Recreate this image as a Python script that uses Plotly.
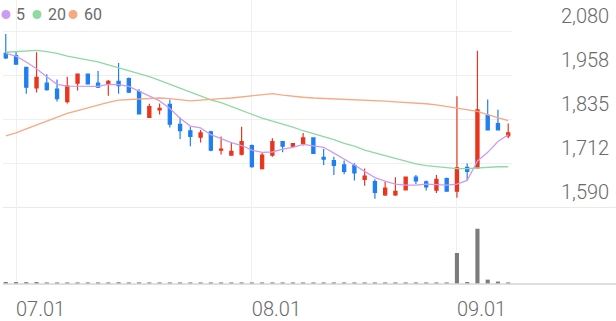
import pandas as pd
import plotly.graph_objects as go

# ---------------- data ----------------
# trading days 2025-06-30 .. 2025-09-08 (Aug 15 is a market holiday)
holidays = ["2025-08-15"]
dates = [d.strftime("%Y-%m-%d") for d in pd.bdate_range("2025-06-30", "2025-09-08")
         if d.strftime("%Y-%m-%d") not in holidays]

opens = [2018, 2012, 1979, 1922, 1935, 1919, 1884, 1935, 1960, 1935,
         1933, 1940, 1948, 1912, 1840, 1861, 1876, 1821, 1803, 1785,
         1800, 1749, 1735, 1738, 1762, 1698, 1735, 1773, 1760, 1767,
         1783, 1729, 1720, 1708, 1707, 1668, 1662, 1625, 1625, 1639,
         1674, 1661, 1638, 1670, 1635, 1701, 1700, 1846, 1823, 1789]
highs = [2072, 2023, 1980, 2021, 1960, 1945, 1953, 1962, 1962, 1969,
         1944, 1991, 1951, 1918, 1878, 1879, 1890, 1840, 1814, 1805,
         1803, 1787, 1770, 1814, 1765, 1741, 1782, 1774, 1768, 1797,
         1784, 1753, 1731, 1720, 1713, 1698, 1668, 1662, 1674, 1676,
         1680, 1665, 1680, 1673, 1899, 1712, 2025, 1890, 1861, 1823]
lows = [2002, 1987, 1906, 1909, 1914, 1884, 1879, 1915, 1932, 1922,
        1900, 1906, 1908, 1848, 1839, 1848, 1812, 1780, 1760, 1770,
        1746, 1737, 1734, 1734, 1700, 1695, 1731, 1743, 1758, 1762,
        1739, 1708, 1680, 1682, 1665, 1650, 1614, 1622, 1622, 1638,
        1655, 1637, 1630, 1634, 1617, 1664, 1698, 1804, 1804, 1782]
closes = [2005, 1988, 1924, 1951, 1917, 1892, 1927, 1960, 1933, 1924,
          1940, 1928, 1910, 1850, 1870, 1865, 1821, 1803, 1787, 1797,
          1749, 1752, 1746, 1773, 1703, 1735, 1773, 1760, 1767, 1783,
          1740, 1724, 1707, 1690, 1686, 1677, 1632, 1644, 1635, 1674,
          1664, 1647, 1668, 1635, 1700, 1690, 1861, 1805, 1805, 1797]
volumes = [210000, 200000, 190000, 200000, 100000, 90000, 100000, 90000, 100000, 90000,
           100000, 180000, 100000, 170000, 100000, 90000, 100000, 90000, 100000, 90000,
           100000, 90000, 100000, 100000, 110000, 100000, 90000, 100000, 90000, 100000,
           100000, 90000, 100000, 90000, 100000, 90000, 100000, 90000, 100000, 90000,
           100000, 90000, 100000, 110000, 3200000, 200000, 5700000, 450000, 250000, 100000]

ma5 = [2018, 2010, 1994, 1975, 1953, 1932, 1927, 1927, 1928, 1926,
       1932, 1931, 1926, 1913, 1900, 1886, 1865, 1838, 1816, 1811,
       1792, 1781, 1770, 1762, 1749, 1743, 1744, 1752, 1757, 1765,
       1762, 1757, 1741, 1725, 1708, 1690, 1673, 1663, 1655, 1652,
       1652, 1655, 1654, 1652, 1655, 1665, 1719, 1743, 1773, 1792]
ma20 = [2021, 2023, 2025, 2026, 2023, 2018, 2010, 2005, 1999, 1994,
        1986, 1978, 1970, 1962, 1953, 1943, 1932, 1921, 1910, 1900,
        1889, 1881, 1870, 1859, 1848, 1838, 1830, 1822, 1813, 1803,
        1795, 1787, 1778, 1768, 1760, 1749, 1741, 1733, 1725, 1719,
        1711, 1706, 1703, 1700, 1698, 1698, 1700, 1702, 1703, 1703]
ma60 = [1789, 1797, 1808, 1819, 1830, 1840, 1851, 1859, 1867, 1875,
        1882, 1888, 1890, 1892, 1893, 1894, 1892, 1888, 1886, 1888,
        1889, 1892, 1894, 1897, 1900, 1902, 1906, 1902, 1898, 1896,
        1894, 1893, 1892, 1890, 1889, 1888, 1886, 1885, 1883, 1882,
        1881, 1878, 1875, 1870, 1866, 1862, 1857, 1848, 1840, 1831]

ma_periods = ["5", "20", "60"]
ma_series = [ma5, ma20, ma60]

x_tick_dates = ["2025-07-01", "2025-08-01", "2025-09-01"]
x_tick_labels = ["07.01", "08.01", "09.01"]
y_tick_values = [1590, 1712.5, 1835, 1957.5, 2080]
y_tick_labels = ["1,590", "1,712", "1,835", "1,958", "2,080"]

# ---------------- style ----------------
UP = "#e8361c"
DOWN = "#1f7ff0"
MA_COLORS = ["#cc9cf0", "#8fd9a3", "#f8a883"]
GRID = "#efefef"
TEXT = "#6a6a6a"
FONT = "Roboto"

W, H = 616, 321
PL, PR, PT, PB = 3, 512, 0, 293          # plot area in pixels
VOL_TOP = 214                             # divider between price and volume panes
px_per_price = 45.5 / 122.5

price_dom0 = (PB - VOL_TOP) / (PB - PT)
price_top = 1590 + (VOL_TOP - PT) / px_per_price

fig = go.Figure()

fig.add_trace(go.Bar(
    x=dates, y=volumes, xaxis="x", yaxis="y2",
    marker=dict(color="#7b7b7b", line=dict(width=0)), width=0.4,
    hoverinfo="skip"))

for vals, col in zip(ma_series, MA_COLORS):
    fig.add_trace(go.Scatter(
        x=dates, y=vals, mode="lines", xaxis="x", yaxis="y",
        line=dict(color=col, width=1.3), hoverinfo="skip"))

fig.add_trace(go.Candlestick(
    x=dates, open=opens, high=highs, low=lows, close=closes,
    xaxis="x", yaxis="y",
    increasing=dict(line=dict(color=UP, width=1.2), fillcolor=UP),
    decreasing=dict(line=dict(color=DOWN, width=1.2), fillcolor=DOWN),
    whiskerwidth=0))

shapes = [
    dict(type="line", xref="paper", yref="paper", x0=0, x1=(W - PL) / (PR - PL),
         y0=price_dom0, y1=price_dom0, line=dict(color="#e9e9e9", width=1), layer="below"),
    dict(type="line", xref="paper", yref="paper", x0=0, x1=(W - PL) / (PR - PL),
         y0=0, y1=0, line=dict(color="#d6d6d6", width=1.5), layer="above"),
]

annotations = []
legend_circle_px = [6, 37, 73]
legend_text_px = [14, 46, 82]
legend_y = (PB - 15) / (PB - PT)
for name, col, cx, tx in zip(ma_periods, MA_COLORS, legend_circle_px, legend_text_px):
    xa = (cx - PL) / (PR - PL)
    shapes.append(dict(type="circle", xref="paper", yref="paper",
                       xsizemode="pixel", ysizemode="pixel",
                       xanchor=xa, yanchor=legend_y,
                       x0=-4.5, x1=4.5, y0=-4.5, y1=4.5,
                       fillcolor=col, line=dict(width=0)))
    annotations.append(dict(xref="paper", yref="paper", x=(tx - PL) / (PR - PL), y=legend_y,
                            xanchor="left", yanchor="middle", showarrow=False,
                            text=name, font=dict(family=FONT, size=16, color=TEXT)))

fig.update_layout(
    width=W, height=H,
    margin=dict(l=PL, r=W - PR, t=PT, b=H - PB, pad=0),
    paper_bgcolor="white", plot_bgcolor="white",
    showlegend=False, boxgap=0.56,
    shapes=shapes, annotations=annotations,
    xaxis=dict(type="category", range=[-0.27, 49.37], domain=[0, 1], anchor="y2",
               tickmode="array", tickvals=x_tick_dates, ticktext=x_tick_labels,
               ticklabelposition="outside right", ticklabelstandoff=11,
               showgrid=True, gridcolor=GRID, gridwidth=1,
               showline=False, zeroline=False, ticks="",
               tickfont=dict(family=FONT, size=20, color=TEXT, weight=300),
               rangeslider=dict(visible=False), fixedrange=True),
    yaxis=dict(domain=[price_dom0, 1], range=[1590, price_top], anchor="x", side="right",
               tickmode="array", tickvals=y_tick_values, ticktext=y_tick_labels,
               showgrid=True, gridcolor=GRID, gridwidth=1,
               showline=False, zeroline=False, ticks="",
               ticklabelstandoff=48, ticklabelshift=-15,
               tickfont=dict(family=FONT, size=20, color=TEXT, weight=300), fixedrange=True),
    yaxis2=dict(domain=[0, price_dom0], range=[0, 7.9e6], anchor="x",
                showgrid=False, showticklabels=False, zeroline=False, showline=False,
                fixedrange=True),
)

fig.write_html("out.html")
